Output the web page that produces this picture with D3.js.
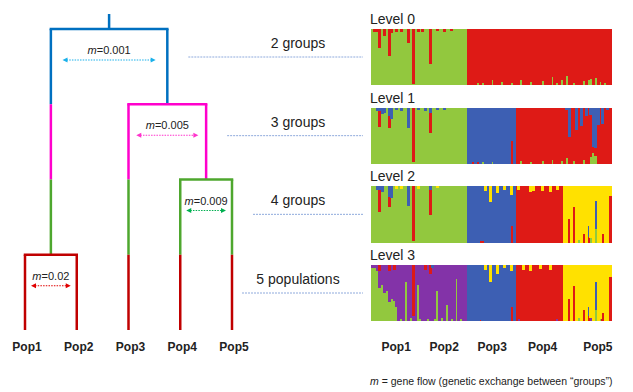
<!DOCTYPE html>
<html>
<head>
<meta charset="utf-8">
<script src="https://cdn.jsdelivr.net/npm/d3@7"></script>
<style>
  body { margin: 0; background: #fff; }
  text { font-family: "Liberation Sans", Arial, sans-serif; fill: #222; }
</style>
</head>
<body>
<div id="chart"></div>
<script>
// populations and tree
const pops = ["Pop1", "Pop2", "Pop3", "Pop4", "Pop5"];
const levelNames = ["Level 0", "Level 1", "Level 2", "Level 3"];
const groupLabels = ["2 groups", "3 groups", "4 groups", "5 populations"];
const geneFlow = [0.001, 0.005, 0.009, 0.02];
// split = level at which a node divides
const treeData = {
  split: 0,
  children: [
    { split: 3, children: [{ name: "Pop1" }, { name: "Pop2" }] },
    { split: 1, children: [
      { name: "Pop3" },
      { split: 2, children: [{ name: "Pop4" }, { name: "Pop5" }] }
    ] }
  ]
};

// structure plot: 100 individuals, runs of dominant cluster per level
const nIndividuals = 100;
const stackOrder = ["G", "P", "R", "B", "Y"];
const level0Runs = [["G", 40], ["R", 60]];
const level1Runs = [["G", 40], ["B", 20], ["R", 40]];
const level2Runs = [["G", 40], ["B", 20], ["R", 20], ["Y", 20]];
const level3Runs = [["G", 11], ["P", 29], ["B", 20], ["R", 20], ["Y", 20]];

// admixture: [individual, cluster, fraction]
const level0Mix = [
  [1, "R", 0.05], [2, "R", 0.04], [3, "R", 0.33], [5, "R", 0.12], [7, "R", 0.48], [8, "R", 0.06],
  [10, "R", 0.04], [12, "R", 0.05], [15, "R", 0.24], [17, "R", 0.97], [19, "R", 0.05], [21, "R", 0.04],
  [24, "R", 0.62], [27, "R", 0.03], [30, "R", 0.04], [33, "R", 0.03],
  [44, "G", 0.04], [46, "G", 0.04], [50, "G", 0.1], [54, "G", 0.06], [58, "G", 0.04], [62, "G", 0.1],
  [66, "G", 0.06], [71, "G", 0.08], [75, "G", 0.15], [77, "G", 0.05], [79, "G", 0.1], [81, "G", 0.17],
  [84, "G", 0.05], [88, "G", 0.08], [90, "G", 0.1], [91, "G", 0.12], [93, "G", 0.13], [95, "G", 0.06],
  [97, "G", 0.05]
];
const level1Mix = [
  [2, "B", 0.05], [3, "R", 0.27], [3, "B", 0.06], [4, "B", 0.1], [5, "B", 0.08], [7, "R", 0.2],
  [7, "B", 0.15], [8, "B", 0.2], [10, "B", 0.04], [12, "B", 0.05], [15, "B", 0.35], [17, "R", 0.97],
  [19, "B", 0.04], [22, "B", 0.05], [24, "R", 0.37], [24, "B", 0.08], [27, "B", 0.04], [30, "B", 0.04],
  [42, "R", 0.03], [44, "R", 0.04], [46, "G", 0.03], [50, "G", 0.03], [58, "R", 0.42],
  [62, "G", 0.05], [66, "G", 0.04], [71, "G", 0.05], [75, "G", 0.08], [79, "G", 0.06],
  [81, "B", 0.04], [81, "G", 0.1], [82, "B", 0.52], [84, "G", 0.05],
  [85, "B", 0.4], [87, "B", 0.32], [88, "G", 0.08], [89, "B", 0.15],
  [91, "B", 0.12], [91, "G", 0.12], [92, "B", 0.7], [92, "G", 0.2], [93, "B", 0.72],
  [93, "G", 0.15], [94, "B", 0.3], [96, "B", 0.28], [98, "B", 0.04]
];
const level2Mix = [
  [2, "B", 0.05], [3, "R", 0.4], [3, "B", 0.06], [4, "B", 0.1], [7, "R", 0.18], [7, "B", 0.18],
  [8, "B", 0.2], [10, "Y", 0.04], [12, "Y", 0.04], [15, "B", 0.34], [17, "R", 0.97], [19, "Y", 0.04],
  [24, "R", 0.45], [24, "B", 0.05], [27, "Y", 0.03],
  [45, "R", 0.03], [46, "R", 0.03], [47, "Y", 0.08], [49, "Y", 0.28], [52, "Y", 0.12], [55, "Y", 0.05],
  [58, "Y", 0.15], [58, "R", 0.3],
  [61, "Y", 0.05], [66, "Y", 0.1], [67, "Y", 0.08], [71, "Y", 0.08], [74, "Y", 0.1], [77, "Y", 0.06],
  [82, "R", 0.42], [84, "R", 0.63], [86, "G", 0.05], [88, "R", 0.15], [90, "B", 0.19], [90, "R", 0.1],
  [91, "G", 0.08], [93, "B", 0.5], [93, "G", 0.25], [96, "R", 0.15], [99, "R", 0.84]
];
const level3Mix = [
  [0, "P", 0.04], [1, "P", 0.05], [2, "P", 0.1], [3, "P", 0.3], [3, "R", 0.1], [4, "P", 0.35],
  [5, "P", 0.5], [6, "P", 0.45], [7, "P", 0.55], [7, "R", 0.1], [8, "P", 0.6], [9, "P", 0.55],
  [9, "R", 0.08], [10, "P", 0.75],
  [12, "G", 0.05], [14, "G", 0.7], [16, "G", 0.06], [17, "R", 0.9], [19, "G", 0.65], [20, "G", 0.04],
  [22, "R", 0.08], [23, "G", 0.05], [24, "R", 0.15], [25, "B", 0.05], [26, "G", 0.04],
  [27, "G", 0.55], [29, "G", 0.06], [31, "G", 0.3], [33, "G", 0.05], [35, "G", 0.75], [37, "G", 0.04],
  [45, "R", 0.03], [47, "Y", 0.08], [49, "Y", 0.3], [52, "Y", 0.15], [55, "Y", 0.05], [58, "Y", 0.1],
  [58, "R", 0.25],
  [61, "P", 0.05], [63, "Y", 0.08], [66, "Y", 0.1], [70, "Y", 0.06], [74, "Y", 0.08], [77, "P", 0.04],
  [82, "R", 0.4], [84, "R", 0.64], [86, "G", 0.06], [88, "R", 0.2], [90, "B", 0.15], [90, "R", 0.1],
  [91, "P", 0.06], [93, "B", 0.5], [93, "G", 0.2], [95, "G", 0.05], [96, "R", 0.15], [99, "R", 0.8]
];
const popLabelIndex = [10, 30, 50, 71, 94];

const levelRuns = [level0Runs, level1Runs, level2Runs, level3Runs];
const levelMix = [level0Mix, level1Mix, level2Mix, level3Mix];

const clusterColors = { G: "#92c83e", P: "#8333a8", R: "#de1a16", B: "#3d5fb3", Y: "#ffe100" };
const treeColors = ["#0070c0", "#ff00cc", "#4ea72e", "#c00000"];
const arrowColors = ["#1ab0ea", "#ff33cc", "#00b050", "#e00000"];

const width = 633, height = 392;
const svg = d3.select("#chart").append("svg")
  .attr("width", width)
  .attr("height", height);

// ---- tree ----
const xLeaf = d3.scalePoint().domain(pops).range([25, 232]);
const yLevel = d3.scaleLinear().domain([0, 4]).range([29, 330]);

const root = d3.hierarchy(treeData);
root.eachAfter(n => {
  n.x = n.children ? d3.mean(n.children, c => c.x) : xLeaf(n.data.name);
  n.level = n.children ? n.data.split : 4;
});

const tree = svg.append("g")
  .attr("fill", "none")
  .attr("stroke-width", 2.5);

// stem
tree.append("line")
  .attr("x1", root.x).attr("x2", root.x)
  .attr("y1", 14).attr("y2", yLevel(0))
  .attr("stroke", treeColors[0]);

// vertical branches, coloured by level band
const segs = [];
root.descendants().filter(n => n.parent).forEach(n => {
  for (let k = n.parent.level; k < n.level; k++) {
    segs.push({ x: n.x, k: k });
  }
});
tree.selectAll(".vseg")
  .data(segs)
  .enter().append("line")
  .attr("class", "vseg")
  .attr("x1", d => d.x).attr("x2", d => d.x)
  .attr("y1", d => yLevel(d.k)).attr("y2", d => yLevel(d.k + 1))
  .attr("stroke", d => treeColors[d.k]);

const inner = root.descendants().filter(n => n.children);
tree.selectAll(".hseg")
  .data(inner)
  .enter().append("line")
  .attr("class", "hseg")
  .attr("x1", d => d3.min(d.children, c => c.x) - 1.25)
  .attr("x2", d => d3.max(d.children, c => c.x) + 1.25)
  .attr("y1", d => yLevel(d.level)).attr("y2", d => yLevel(d.level))
  .attr("stroke", d => treeColors[d.level]);

// gene flow labels and arrows
inner.forEach(d => {
  const y = yLevel(d.level);
  const x0 = d3.min(d.children, c => c.x), x1 = d3.max(d.children, c => c.x);
  const inset = Math.max(6, (x1 - x0) * 0.1);
  const col = arrowColors[d.level];
  const t = svg.append("text")
    .attr("x", d.x).attr("y", y + 25)
    .attr("text-anchor", "middle")
    .attr("font-size", 11);
  t.append("tspan").attr("font-style", "italic").text("m");
  t.append("tspan").text("=" + geneFlow[d.level]);

  const ay = y + 31, ax0 = x0 + inset, ax1 = x1 - inset;
  svg.append("line")
    .attr("x1", ax0 + 4).attr("x2", ax1 - 4)
    .attr("y1", ay).attr("y2", ay)
    .attr("stroke", col).attr("stroke-width", 1.2)
    .attr("stroke-dasharray", "1.5,1.2");
  svg.append("path")
    .attr("d", `M${ax0},${ay}L${ax0 + 5},${ay - 2.5}L${ax0 + 5},${ay + 2.5}Z M${ax1},${ay}L${ax1 - 5},${ay - 2.5}L${ax1 - 5},${ay + 2.5}Z`)
    .attr("fill", col);
});

// leaf labels
svg.selectAll(".leafLabel")
  .data(root.leaves())
  .enter().append("text")
  .attr("class", "leafLabel")
  .attr("x", d => d.x + 2)
  .attr("y", 351)
  .attr("text-anchor", "middle")
  .attr("font-size", 12)
  .attr("font-weight", "bold")
  .text(d => d.data.name);

// ---- structure panels ----
const panelH = 56;
const yPanel = d3.scaleLinear().domain([0, 3]).range([29, 265]);
const xInd = d3.scaleBand().domain(d3.range(nIndividuals)).range([371, 611]).padding(0);

// rightmost tree x at each level
const levelRight = [0, 1, 2, 3].map(k => {
  const nodes = root.descendants().filter(n => n.level > k && (!n.parent || n.parent.level <= k));
  return d3.max(nodes, n => n.x);
});

levelRuns.forEach((runs, L) => {
  const top = yPanel(L);
  const y = d3.scaleLinear().domain([0, 1]).range([top + panelH, top]);

  // build individuals
  const base = [];
  runs.forEach(([c, n]) => { for (let j = 0; j < n; j++) base.push(c); });
  const inds = base.map((c, i) => {
    const p = {};
    stackOrder.forEach(k => { p[k] = 0; });
    levelMix[L].filter(m => m[0] === i).forEach(m => { p[m[1]] += m[2]; });
    p[c] = 1 - d3.sum(stackOrder.filter(k => k !== c), k => p[k]);
    return p;
  });
  const stacked = d3.stack().keys(stackOrder)(inds);

  const g = svg.append("g").attr("shape-rendering", "crispEdges");
  stacked.forEach(layer => {
    g.selectAll(null)
      .data(layer.map((d, i) => ({ i: i, y0: d[0], y1: d[1] })).filter(d => d.y1 - d.y0 > 0))
      .enter().append("rect")
      .attr("x", d => xInd(d.i))
      .attr("width", xInd.bandwidth() + 0.6)
      .attr("y", d => y(d.y1))
      .attr("height", d => y(d.y0) - y(d.y1) + 0.4)
      .attr("fill", clusterColors[layer.key]);
  });

  svg.append("text")
    .attr("x", 370).attr("y", top - 5)
    .attr("font-size", 14)
    .text(levelNames[L]);

  svg.append("text")
    .attr("x", 298).attr("y", top + 19)
    .attr("text-anchor", "middle")
    .attr("font-size", 14)
    .text(groupLabels[L]);

  svg.append("line")
    .attr("x1", levelRight[L] + (L < 3 ? 21 : 10)).attr("x2", 363)
    .attr("y1", top + 28).attr("y2", top + 28)
    .attr("stroke", "#8faadc").attr("stroke-width", 1)
    .attr("stroke-dasharray", "2,1");
});

svg.selectAll(".popLabel")
  .data(pops)
  .enter().append("text")
  .attr("class", "popLabel")
  .attr("x", (d, i) => xInd(popLabelIndex[i]) + xInd.bandwidth() / 2)
  .attr("y", 351)
  .attr("text-anchor", "middle")
  .attr("font-size", 12)
  .attr("font-weight", "bold")
  .text(d => d);

const note = svg.append("text")
  .attr("x", 370).attr("y", 385)
  .attr("font-size", 10.5);
note.append("tspan").attr("font-style", "italic").text("m");
note.append("tspan").text(" = gene flow (genetic exchange between \u201Cgroups\u201D)");
</script>
</body>
</html>
